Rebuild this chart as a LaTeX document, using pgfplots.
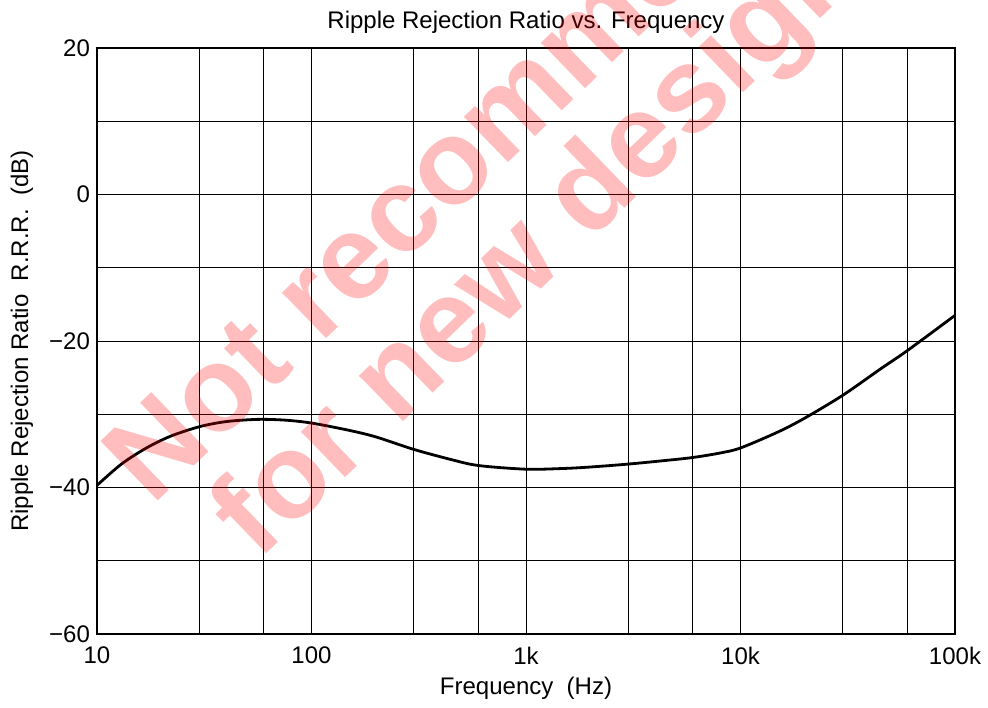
\documentclass[border=0pt]{standalone}
\usepackage{pgfplots}
\pgfplotsset{compat=1.18}
\usepackage{fontspec}
\setmainfont{Liberation Sans}

\pgfplotstableread{
f      rrr
10     -39.7
13     -36.8
17     -34.6
22     -33.0
30     -31.7
40     -31.0
56     -30.7
75     -30.8
100    -31.2
150    -32.2
200    -33.1
300    -34.8
450    -36.2
600    -37.0
1000   -37.5
1500   -37.4
2000   -37.2
3000   -36.8
4500   -36.3
6000   -35.9
8000   -35.3
10000  -34.6
15000  -32.4
20000  -30.5
30000  -27.4
45000  -23.8
60000  -21.3
100000 -16.5
}\rrrdata

\begin{document}
\begin{tikzpicture}
\begin{axis}[
    at={(0,0)}, anchor=south west,
    width=429pt, height=293pt, scale only axis,
    xmode=log, log basis x=10,
    xmin=10, xmax=100000, ymin=-60, ymax=20,
    xtick={10,100,1000,10000,100000},
    xticklabels={10,100,1k,10k,100k},
    minor xtick={30,60,300,600,3000,6000,30000,60000},
    ytick={-60,-40,-20,0,20},
    yticklabels={−60,−40,−20,0,20},
    minor ytick={-50,-30,-10,10},
    grid=both,
    grid style={black, line width=0.5pt},
    minor grid style={black, line width=0.5pt},
    major tick length=0pt, minor tick length=0pt,
    axis line style={line width=0.8pt},
    tick label style={font=\fontsize{12}{14}\selectfont},
    xticklabel style={yshift=-3pt},
    /pgf/number format/assume math mode=true,
    title={Ripple Rejection Ratio vs. Frequency},
    title style={at={(axis description cs:0.5,1.024)}, anchor=center, font=\fontsize{12}{14}\selectfont},
    xlabel={Frequency\ \ (Hz)},
    xlabel style={at={(axis description cs:0.5,-0.0922)}, anchor=center, font=\fontsize{12}{14}\selectfont},
    ylabel={Ripple Rejection Ratio\ \ R.R.R.\ \ (dB)},
    ylabel style={at={(axis description cs:-0.0874,0.5)}, anchor=center, font=\fontsize{12}{14}\selectfont},
]
\addplot[black, line width=1.4pt, smooth] table[x=f, y=rrr] {\rrrdata};
\end{axis}
% watermark
\node[anchor=base west, rotate=44, inner sep=0pt, text=red, text opacity=0.26,
      font=\fontsize{60}{60}\selectfont\bfseries] at (27.5pt,63.5pt) {Not recommended};
\node[anchor=base west, rotate=44, inner sep=0pt, text=red, text opacity=0.26,
      font=\fontsize{60}{60}\selectfont\bfseries] at (80.5pt,36pt) {for new designs};
\pgfresetboundingbox
\path[use as bounding box] (-48.5pt,-36.5pt) rectangle (445.5pt,317pt);
\end{tikzpicture}
\end{document}
